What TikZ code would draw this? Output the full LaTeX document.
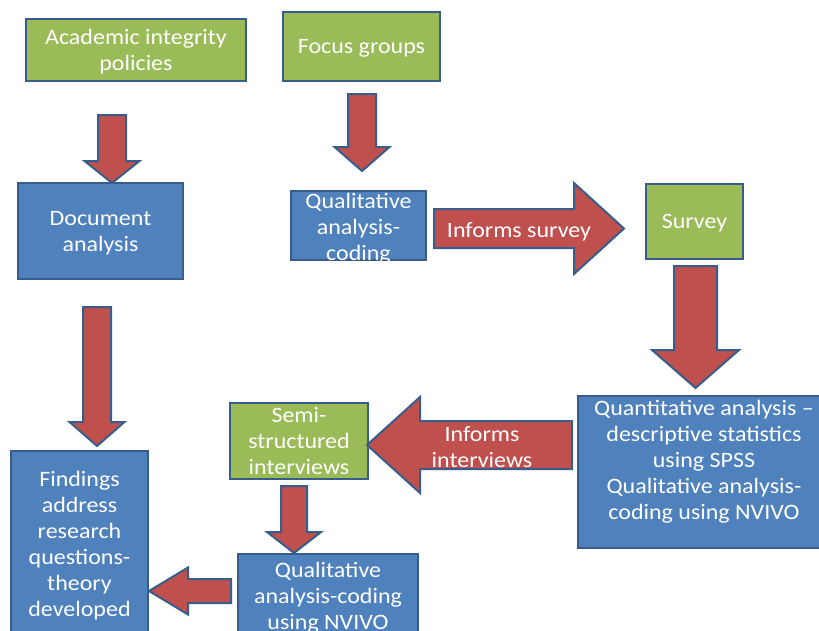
\documentclass[tikz,border=0pt]{standalone}
\usepackage{fontspec}
\setmainfont{Carlito}[FakeStretch=1.09]
\usetikzlibrary{calc}

\definecolor{boxgreen}{HTML}{9BBB59}
\definecolor{boxblue}{HTML}{4F81BD}
\definecolor{arrowred}{HTML}{C0504D}
\definecolor{edgeblue}{HTML}{385D8A}

\tikzset{
  box/.style={draw=edgeblue, line width=2pt, inner sep=0pt, align=center,
    text=white, font=\fontsize{22}{26}\selectfont, text depth=-1pt},
  greenbox/.style={box, fill=boxgreen},
  bluebox/.style={box, fill=boxblue},
  lbl/.style={text=white, align=center, inner sep=0pt, font=\fontsize{22}{26}\selectfont},
  blockarrow/.style={draw=edgeblue, fill=arrowred, line width=2pt, line join=miter}
}

% block arrows: tail, tip, shaft half width, head half width, head length
\newcommand{\blkdown}[5]{\draw[blockarrow] ($(#1)+(-#3,0)$) -- ($(#1)+(#3,0)$) -- ($(#2)+(#3,-#5)$) -- ($(#2)+(#4,-#5)$) -- (#2) -- ($(#2)+(-#4,-#5)$) -- ($(#2)+(-#3,-#5)$) -- cycle;}
\newcommand{\blkright}[5]{\draw[blockarrow] ($(#1)+(0,-#3)$) -- ($(#2)+(-#5,-#3)$) -- ($(#2)+(-#5,-#4)$) -- (#2) -- ($(#2)+(-#5,#4)$) -- ($(#2)+(-#5,#3)$) -- ($(#1)+(0,#3)$) -- cycle;}
\newcommand{\blkleft}[5]{\draw[blockarrow] ($(#1)+(0,-#3)$) -- ($(#2)+(#5,-#3)$) -- ($(#2)+(#5,-#4)$) -- (#2) -- ($(#2)+(#5,#4)$) -- ($(#2)+(#5,#3)$) -- ($(#1)+(0,#3)$) -- cycle;}

\begin{document}
\begin{tikzpicture}[x=1pt, y=-1pt]
	\path[use as bounding box, clip] (0,0) rectangle (819,630);
	% top row
	\node[greenbox, minimum width=220, minimum height=62] (acad) at (136,50) {Academic integrity\\policies};
	\node[greenbox, minimum width=157, minimum height=69] (focus) at (361.5,46.5) {Focus groups};
	% middle row
	\node[bluebox, minimum width=165, minimum height=96] (doc) at (100.5,231) {Document\\analysis};
	\node[bluebox, minimum width=135, minimum height=69] (qual) at (358.5,225.5) {};
	\node[lbl] (qualtxt) at (358.5,229) {Qualitative\\analysis-\\coding};
	\node[greenbox, minimum width=97, minimum height=75] (survey) at (694.5,221.5) {Survey};
	% lower part
	\node[bluebox, minimum width=252, minimum height=152] (quant) at (704,472) {};
	\node[lbl] (quanttxt) at (704,462) {Quantitative analysis --\\descriptive statistics\\using SPSS\\Qualitative analysis-\\coding using NVIVO};
	\node[greenbox, minimum width=138, minimum height=76] (semi) at (299,441) {Semi-\\structured\\interviews};
	\node[bluebox, minimum width=137, minimum height=186] (find) at (79.5,544) {Findings\\address\\research\\questions-\\theory\\developed};
	\node[bluebox, minimum width=180, minimum height=84] (nvivo) at (328,596) {Qualitative\\analysis-coding\\using NVIVO};

	% arrow ends
	\coordinate (a1) at (112,115);   \coordinate (a2) at (112,183);
	\coordinate (b1) at (362,94);    \coordinate (b2) at (362,171);
	\coordinate (c1) at (434,228.5); \coordinate (c2) at (624,228.5);
	\coordinate (d1) at (695.5,266); \coordinate (d2) at (695.5,388);
	\coordinate (e1) at (572,445);   \coordinate (e2) at (367,445);
	\coordinate (f1) at (97,307);    \coordinate (f2) at (97,446);
	\coordinate (g1) at (294,486);   \coordinate (g2) at (294,553);
	\coordinate (h1) at (231,591);   \coordinate (h2) at (149,591);

	\blkdown{a1}{a2}{14}{27.5}{22}
	\blkdown{b1}{b2}{14}{27.5}{24}
	\blkright{c1}{c2}{19.5}{45.5}{50}
	\blkdown{d1}{d2}{21.5}{43.5}{38}
	\blkleft{e1}{e2}{24}{48}{53}
	\blkdown{f1}{f2}{14}{27.5}{24}
	\blkdown{g1}{g2}{13}{27}{21}
	\blkleft{h1}{h2}{12}{23.5}{39}

	\node[lbl] (informs1) at (519,232) {Informs survey};
	\node[lbl] (informs2) at (482,447) {Informs\\interviews};
\end{tikzpicture}
\end{document}
